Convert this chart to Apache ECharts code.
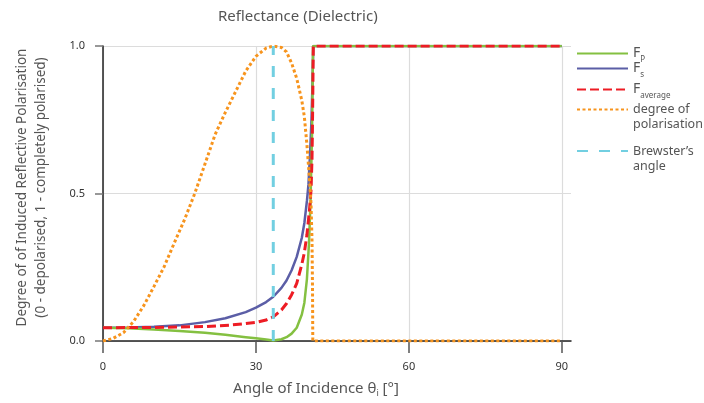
<!DOCTYPE html>
<html>
<head>
<meta charset="utf-8">
<script src="https://cdn.jsdelivr.net/npm/echarts@6/dist/echarts.min.js"></script>
<style>
  html, body { margin: 0; padding: 0; background: #fff; }
  #chart { width: 704px; height: 403px; }
</style>
</head>
<body>
<div id="chart"></div>
<script>
// [angle in degrees, value]
const fpPoints = [[0,0.045],[5,0.043],[10,0.039],[15,0.034],[20,0.028],[24,0.021],[28,0.013],[30,0.009],[32,0.005],[33.4,0.002],[35,0.006],[36,0.013],[37,0.025],[38,0.045],[39,0.09],[39.5,0.13],[40,0.21],[40.4,0.33],[40.7,0.47],[41.0,0.7],[41.2,1],[90,1]];
const fsPoints = [[0,0.045],[5,0.046],[10,0.048],[15,0.053],[20,0.064],[24,0.077],[28,0.098],[30,0.113],[32,0.132],[33.4,0.15],[35,0.18],[36,0.205],[37,0.24],[38,0.285],[39,0.35],[39.5,0.40],[40,0.475],[40.3,0.53],[40.6,0.63],[40.9,0.75],[41.1,0.88],[41.25,1],[90,1]];
const favgPoints = [[0,0.045],[10,0.046],[20,0.049],[25,0.054],[28,0.059],[30,0.063],[32,0.071],[33.4,0.082],[35,0.105],[36,0.127],[37,0.157],[38,0.195],[39,0.26],[39.5,0.30],[40,0.36],[40.5,0.444],[40.8,0.51],[41.0,0.62],[41.1,0.75],[41.25,1],[90,1]];
const dopPoints = [[0,0],[2,0.009],[4,0.028],[6,0.066],[8,0.12],[10,0.185],[12,0.252],[14,0.333],[16,0.412],[18,0.50],[20,0.60],[22,0.70],[24,0.775],[26,0.845],[28,0.915],[30,0.965],[32,0.993],[33.4,1.0],[35,0.995],[36,0.98],[37,0.942],[38,0.89],[39,0.815],[39.5,0.76],[40,0.665],[40.5,0.55],[40.8,0.467],[41.0,0.34],[41.1,0.17],[41.15,0],[90,0]];
const brewsterAngle = 33.4;
const brewsterPoints = [[brewsterAngle, 0], [brewsterAngle, 1]];
const xTicks = [0, 30, 60, 90];

const FONT = 'Noto Sans';
const TEXT = '#555';
const GRID_LINE = '#dcdcdc';

const chart = echarts.init(document.getElementById('chart'));

function legendAt(name, top, formatter, textStyle) {
  return {
    data: [name],
    left: 576,
    top: top,
    padding: 0,
    itemWidth: 51,
    itemHeight: 14,
    itemGap: 0,
    selectedMode: false,
    itemStyle: { opacity: 0 },
    formatter: formatter,
    textStyle: textStyle || {
      fontFamily: FONT,
      fontSize: 12.5,
      color: TEXT,
      rich: {
        f: { fontFamily: FONT, fontSize: 14, color: TEXT },
        sub: { fontFamily: FONT, fontSize: 8, color: TEXT, padding: [12, 0, 0, 0] }
      }
    }
  };
}

// blank first line so the first text line sits level with the icon
const multiStyle = { fontFamily: FONT, fontSize: 12.5, color: TEXT, lineHeight: 15 };

const option = {
  animation: false,
  title: {
    text: 'Reflectance (Dielectric)',
    left: 213,
    top: 4,
    textStyle: { fontFamily: FONT, fontSize: 15, fontWeight: 'normal', color: TEXT }
  },
  legend: [
    legendAt('Fp', 46.5, '{f|F}{sub|P}'),
    legendAt('Fs', 61.5, '{f|F}{sub|s}'),
    legendAt('Favg', 82.5, '{f|F}{sub|average}'),
    legendAt('dop', 87, '\ndegree of\npolarisation', multiStyle),
    legendAt('brewster', 128.5, '\nBrewster\u2019s\nangle', multiStyle)
  ],
  grid: { left: 103, right: 133, top: 46, bottom: 62 },
  xAxis: {
    type: 'value',
    min: 0,
    max: 91.8,
    interval: 30,
    name: 'Angle of Incidence \u03b8{s|i} [\u00b0]',
    nameLocation: 'middle',
    nameGap: 38,
    nameTextStyle: {
      fontFamily: FONT, fontSize: 15, color: TEXT, padding: [0, 42, 0, 0],
      rich: { s: { fontFamily: FONT, fontSize: 9, color: TEXT, padding: [10, 0, 0, 0] } }
    },
    axisLine: { onZero: false, lineStyle: { color: '#222', width: 1.5 } },
    axisTick: { show: true, customValues: xTicks, length: 12, lineStyle: { color: '#555', width: 1.5 } },
    axisLabel: {
      customValues: xTicks, margin: 20, fontFamily: FONT, fontSize: 11, color: '#333',
      formatter: v => (xTicks.indexOf(v) >= 0 ? String(v) : '')
    },
    splitLine: {
      show: true,
      lineStyle: { color: [GRID_LINE, GRID_LINE, GRID_LINE, GRID_LINE, 'rgba(0,0,0,0)'], width: 1.2 }
    }
  },
  yAxis: {
    type: 'value',
    min: 0,
    max: 1,
    interval: 0.5,
    name: 'Degree of of Induced Reflective Polarisation\n(0 - depolarised, 1 - completely polarised)',
    nameLocation: 'middle',
    nameGap: 52,
    nameTextStyle: { fontFamily: FONT, fontSize: 13.5, lineHeight: 19, color: TEXT, padding: [0, 0, 0, 12] },
    axisLine: { show: true, lineStyle: { color: '#222', width: 1.5 } },
    axisTick: { show: true, length: 8, lineStyle: { color: '#777', width: 1.5 } },
    axisLabel: {
      margin: 18, fontFamily: FONT, fontSize: 11, color: '#333',
      formatter: v => v.toFixed(1)
    },
    splitLine: { show: true, lineStyle: { color: GRID_LINE, width: 1.2 } }
  },
  series: [
    {
      name: 'Fp', type: 'line', data: fpPoints, symbol: 'none', z: 3,
      lineStyle: { color: '#84c041', width: 2.5 }, itemStyle: { color: '#84c041' }
    },
    {
      name: 'Fs', type: 'line', data: fsPoints, symbol: 'none', z: 2,
      lineStyle: { color: '#5b5ea6', width: 2.5 }, itemStyle: { color: '#5b5ea6' }
    },
    {
      name: 'Favg', type: 'line', data: favgPoints, symbol: 'none', z: 4,
      lineStyle: { color: '#ed1c24', width: 3, type: [9, 4] }, itemStyle: { color: '#ed1c24' }
    },
    {
      name: 'dop', type: 'line', data: dopPoints, symbol: 'none', z: 5,
      lineStyle: { color: '#f7941d', width: 3, type: [3, 2.5] }, itemStyle: { color: '#f7941d' }
    },
    {
      name: 'brewster', type: 'line', data: brewsterPoints, symbol: 'none', z: 6,
      lineStyle: { color: '#72cfe1', width: 3, type: [11, 11] }, itemStyle: { color: '#72cfe1' }
    }
  ]
};

chart.setOption(option);
</script>
</body>
</html>
